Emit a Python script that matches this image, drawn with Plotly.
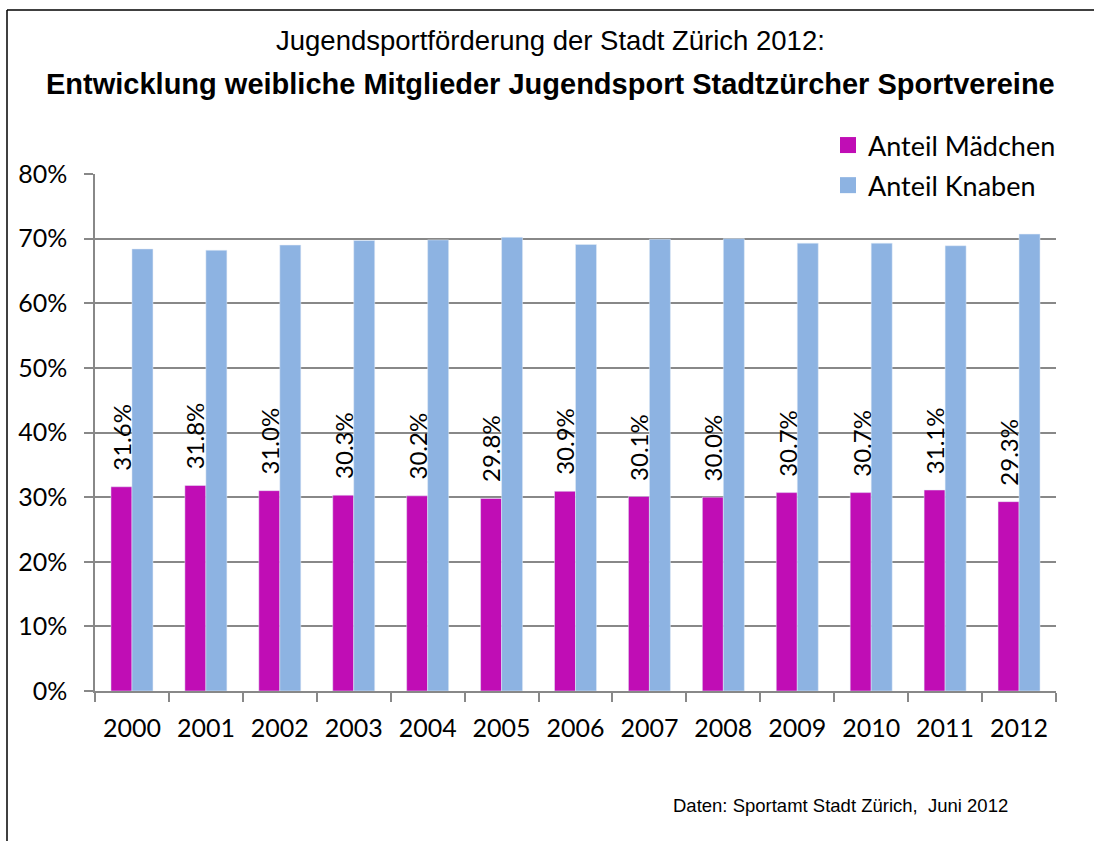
import plotly.graph_objects as go

years = ["2000", "2001", "2002", "2003", "2004", "2005", "2006",
         "2007", "2008", "2009", "2010", "2011", "2012"]
maedchen = [0.316, 0.318, 0.310, 0.303, 0.302, 0.298, 0.309,
            0.301, 0.300, 0.307, 0.307, 0.311, 0.293]
knaben = [0.684, 0.682, 0.690, 0.697, 0.698, 0.702, 0.691,
          0.699, 0.700, 0.693, 0.693, 0.689, 0.707]
labels_m = [f"{v*100:.1f}%" for v in maedchen]

PINK = "#C00DB5"
BLUE = "#8DB3E2"
GRID = "#888888"
FONT = "Lato"

# plot area in pixels
L, R, T, B = 95, 1056, 174, 691
W, H = R - L, B - T
BARGAP = 0.432
BAR_W = W / len(years) * (1 - BARGAP) / 2


def px(x):
    return (x - L) / W


def py(y):
    return (B - y) / H


fig = go.Figure()
fig.add_trace(go.Bar(
    x=years, y=maedchen, name="Anteil Mädchen", marker_color=PINK,
    showlegend=False,
))
fig.add_trace(go.Bar(
    x=years, y=knaben, name="Anteil Knaben", marker_color=BLUE,
    showlegend=False,
))
# legend entries with larger square symbols
fig.add_trace(go.Scatter(
    x=[None], y=[None], mode="markers", name="Anteil Mädchen",
    marker=dict(symbol="square", size=17, color=PINK), legendgroup="a",
))
fig.add_trace(go.Scatter(
    x=[None], y=[None], mode="markers", name="Anteil Knaben",
    marker=dict(symbol="square", size=17, color=BLUE), legendgroup="b",
))

annotations = [
    dict(text=lab, x=i, y=v, xref="x", yref="y", textangle=-90,
         xanchor="center", yanchor="bottom", xshift=-BAR_W / 2, yshift=14,
         showarrow=False, font=dict(family=FONT, size=24, color="black"))
    for i, (v, lab) in enumerate(zip(maedchen, labels_m))
]
annotations += [
    dict(text="Jugendsportförderung der Stadt Zürich 2012:",
         xref="paper", yref="paper", x=px(550), y=py(40),
         xanchor="center", yanchor="middle", showarrow=False,
         font=dict(family="Liberation Sans", size=27.5, color="black")),
    dict(text="<b>Entwicklung weibliche Mitglieder Jugendsport Stadtzürcher Sportvereine</b>",
         xref="paper", yref="paper", x=px(550), y=py(84),
         xanchor="center", yanchor="middle", showarrow=False,
         font=dict(family="Liberation Sans", size=29, color="black")),
    dict(text="Daten: Sportamt Stadt Zürich,&nbsp; Juni 2012",
         xref="paper", yref="paper", x=px(1010), y=py(805),
         xanchor="right", yanchor="middle", showarrow=False,
         font=dict(family="Liberation Sans", size=18.5, color="black")),
]

fig.update_layout(
    width=1094, height=841,
    margin=dict(l=L, r=1094 - R, t=T, b=841 - B, autoexpand=False),
    paper_bgcolor="white", plot_bgcolor="white",
    barmode="group", bargap=BARGAP, bargroupgap=0,
    font=dict(family=FONT, size=24, color="black"),
    showlegend=True,
    legend=dict(
        x=px(828), y=py(121), xanchor="left", yanchor="top",
        bgcolor="white", font=dict(family=FONT, size=27, color="black"),
        traceorder="grouped", tracegroupgap=2,
        itemsizing="trace",
    ),
    xaxis=dict(
        type="category", showline=True, linecolor=GRID, linewidth=1.5,
        ticks="outside", tickson="boundaries", ticklen=9, tickcolor=GRID,
        tickwidth=1.5, showgrid=False,
        tickfont=dict(family=FONT, size=25, color="black"),
        ticklabelstandoff=14,
    ),
    yaxis=dict(
        range=[0, 0.8], dtick=0.1, tickformat=".0%", showline=True,
        linecolor=GRID, linewidth=1.5, ticks="outside", ticklen=9,
        tickcolor=GRID, tickwidth=1.5, showgrid=True, gridcolor=GRID,
        gridwidth=1.5, zeroline=False,
        tickfont=dict(family=FONT, size=25, color="black"),
        ticklabelstandoff=12,
    ),
    annotations=annotations,
    shapes=[
        dict(type="line", xref="paper", yref="paper",
             x0=px(7), x1=px(7), y0=py(10), y1=py(860),
             line=dict(color="black", width=1.5)),
        dict(type="line", xref="paper", yref="paper",
             x0=px(7), x1=px(1110), y0=py(10), y1=py(10),
             line=dict(color="black", width=1.5)),
    ],
)

fig.write_html("out.html")
